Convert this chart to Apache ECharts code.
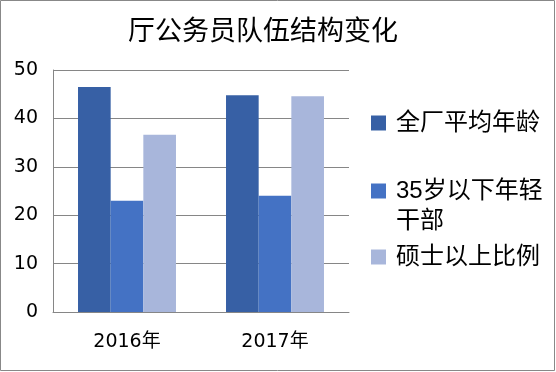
<!DOCTYPE html>
<html>
<head>
<meta charset="utf-8">
<script src="https://cdn.jsdelivr.net/npm/echarts@6/dist/echarts.min.js"></script>
<style>
html,body{margin:0;padding:0;background:#fff;}
#main{width:556px;height:372px;}
</style>
</head>
<body>
<div id="main"></div>
<script>
var categories = ['2016年', '2017年'];
var seriesNames = ['全厂平均年龄', '35岁以下年轻干部', '硕士以上比例'];
var avgAge = [46.5, 44.8];
var youngCadres = [23.0, 24.0];
var masterRatio = [36.6, 44.6];
var yTicks = [0, 10, 20, 30, 40, 50];

var colors = ['#3760A5', '#4472C4', '#A8B6DB'];
var fontFam = '"Liberation Sans", "Noto Sans CJK SC", sans-serif';
var axisFam = '"DejaVu Sans", "Noto Sans CJK SC", sans-serif';

var chart = echarts.init(document.getElementById('main'));
var richA = { a: { fontSize: 24, lineHeight: 30, color: '#000', fontFamily: fontFam, padding: [0, 0, 0, 5] },
              e: { fontSize: 24, lineHeight: 30, color: '#000', fontFamily: fontFam } };
function legendCfg(idx, top, fmt) {
  return {
    data: [seriesNames[idx]],
    left: 371,
    top: top,
    orient: 'vertical',
    padding: 0,
    itemWidth: 15,
    itemHeight: 15,
    icon: 'rect',
    selectedMode: false,
    formatter: fmt,
    textStyle: {
      fontSize: 24,
      color: '#000',
      fontFamily: fontFam,
      rich: richA
    }
  };
}
var option = {
  animation: false,
  backgroundColor: '#fff',
  title: {
    text: '厅公务员队伍结构变化',
    left: 128,
    top: 19,
    padding: 0,
    textStyle: { fontSize: 27, fontWeight: 'normal', color: '#000', fontFamily: fontFam }
  },
  legend: [
    legendCfg(0, 111, '{a|{name}}'),
    legendCfg(1, 149, function () { return '{e| }\n{a|35岁以下年轻}\n{a|干部}'; }),
    legendCfg(2, 245, '{a|{name}}')
  ],
  grid: { left: 53, right: 207, top: 70, bottom: 60 },
  xAxis: {
    type: 'category',
    data: categories,
    axisLine: { show: true, lineStyle: { color: '#868686', width: 1 } },
    axisTick: { show: false },
    axisLabel: { fontSize: 19, color: '#000', margin: 21, fontFamily: axisFam }
  },
  yAxis: {
    type: 'value',
    min: yTicks[0],
    max: yTicks[yTicks.length - 1],
    interval: 10,
    axisLine: { show: true, lineStyle: { color: '#868686', width: 1 } },
    axisTick: { show: false },
    splitLine: { show: true, lineStyle: { color: '#868686', width: 1 } },
    axisLabel: { fontSize: 19, color: '#000', margin: 15, fontFamily: axisFam }
  },
  graphic: [{
    type: 'rect',
    shape: { x: 0.5, y: 0.5, width: 554, height: 370 },
    style: { fill: 'none', stroke: '#888888', lineWidth: 1 },
    silent: true
  }],
  series: [
    { name: seriesNames[0], type: 'bar', data: avgAge, itemStyle: { color: colors[0] }, barGap: '0%', barCategoryGap: '33.8%' },
    { name: seriesNames[1], type: 'bar', data: youngCadres, itemStyle: { color: colors[1] }, barGap: '0%', barCategoryGap: '33.8%' },
    { name: seriesNames[2], type: 'bar', data: masterRatio, itemStyle: { color: colors[2] }, barGap: '0%', barCategoryGap: '33.8%' }
  ]
};
chart.setOption(option);
</script>
</body>
</html>
